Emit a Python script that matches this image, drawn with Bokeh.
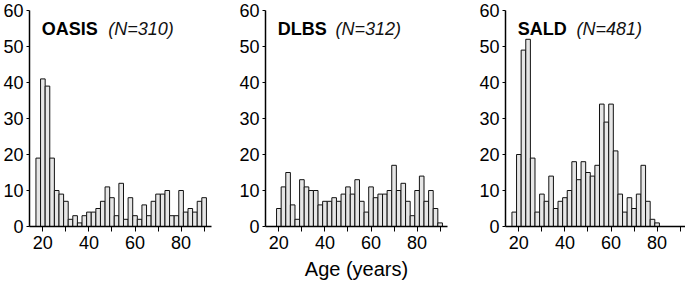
from bokeh.plotting import figure
from bokeh.layouts import row
from bokeh.models import Range1d, FixedTicker, Label
from bokeh.embed import file_html
from bokeh.resources import INLINE

# ---- data ----
oasis_ages = list(range(18, 91, 2))
oasis_counts = [19, 41, 39, 19, 10, 9, 7, 2, 3, 1, 3, 4, 4, 5, 7, 11, 8, 3, 12, 2,
                8, 3, 2, 6, 3, 7, 9, 9, 10, 3, 3, 10, 4, 5, 4, 7, 8]
dlbs_ages = list(range(20, 91, 2))
dlbs_counts = [5, 11, 15, 6, 2, 13, 11, 10, 10, 6, 7, 7, 8, 7, 9, 11, 9, 13, 7, 4,
               11, 8, 9, 9, 10, 17, 10, 12, 7, 3, 10, 14, 7, 10, 5, 1]
sald_ages = list(range(18, 81, 2))
sald_counts = [4, 20, 49, 52, 19, 4, 9, 7, 14, 5, 7, 8, 10, 18, 13, 18, 15, 14, 17, 34,
               29, 34, 21, 9, 4, 8, 5, 9, 17, 7, 2, 1]
names = ["OASIS", "DLBS", "SALD"]
ns = ["(N=310)", "(N=312)", "(N=481)"]
x_ticks = [20, 40, 60, 80]
x_minor = [30, 50, 70, 90]
y_ticks = [0, 10, 20, 30, 40, 50, 60]

FONT = "Liberation Sans"


def make_panel(ages, counts, name, nlabel, nx, bl, br, xlabel=None):
    p = figure(frame_width=182, frame_height=216, output_backend="svg",
               toolbar_location=None, min_border_left=bl, min_border_right=br,
               min_border_top=10, min_border_bottom=59,
               x_range=Range1d(14.2, 93.2), y_range=Range1d(0, 60))
    p.outline_line_color = None
    p.xgrid.visible = False
    p.ygrid.visible = False
    p.background_fill_color = "white"
    p.border_fill_color = "white"
    p.vbar(x=ages, top=counts, width=2, bottom=0, fill_color="#e6e6e6",
           line_color="#111111", line_width=1)

    xa = p.xaxis[0]
    xa.ticker = FixedTicker(ticks=x_ticks, minor_ticks=x_minor)
    xa.major_tick_out = 5
    xa.major_tick_in = 0
    xa.minor_tick_out = 5
    xa.minor_tick_in = 0
    xa.minor_tick_line_color = "black"
    xa.major_tick_line_color = "black"
    xa.axis_line_color = "black"
    xa.axis_line_width = 1.5
    xa.major_label_text_font = FONT
    xa.major_label_text_font_size = "18px"
    xa.major_label_text_color = "black"
    xa.major_label_standoff = 4
    if xlabel:
        xa.axis_label = xlabel
        xa.axis_label_text_font = FONT
        xa.axis_label_text_font_size = "20px"
        xa.axis_label_text_font_style = "normal"
        xa.axis_label_text_color = "black"
        xa.axis_label_standoff = 6

    ya = p.yaxis[0]
    ya.ticker = FixedTicker(ticks=y_ticks)
    ya.major_tick_out = 3
    ya.major_tick_in = 0
    ya.minor_tick_line_color = None
    ya.major_tick_line_color = "black"
    ya.axis_line_color = "black"
    ya.axis_line_width = 1.5
    ya.major_label_text_font = FONT
    ya.major_label_text_font_size = "18px"
    ya.major_label_text_color = "black"
    ya.major_label_standoff = 3

    p.add_layout(Label(x=19.5, y=54.8, text=name, text_font=FONT,
                       text_font_size="18px", text_font_style="bold",
                       text_color="black", text_baseline="alphabetic"))
    p.add_layout(Label(x=nx, y=54.8, text=nlabel, text_font=FONT,
                       text_font_size="18px", text_font_style="italic",
                       text_color="#111111", text_baseline="alphabetic"))
    return p


p1 = make_panel(oasis_ages, oasis_counts, names[0], ns[0], 48.4, 27, 10)
p2 = make_panel(dlbs_ages, dlbs_counts, names[1], ns[1], 44.6, 44, 10, "Age (years)")
p3 = make_panel(sald_ages, sald_counts, names[2], ns[2], 45.0, 48, 0)

layout = row(p1, p2, p3)
open("out.html", "w").write(file_html(layout, INLINE))
